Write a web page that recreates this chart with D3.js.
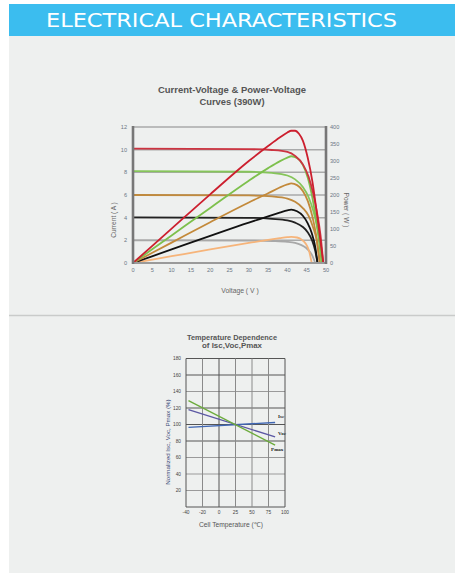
<!DOCTYPE html>
<html>
<head>
<meta charset="utf-8">
<script src="https://cdn.jsdelivr.net/npm/d3@7"></script>
<style>
  body { margin: 0; background: #fff; }
  svg { display: block; font-family: "Liberation Sans", Arial, sans-serif; }
</style>
</head>
<body>
<svg id="chart" width="455" height="573"></svg>
<script>
"use strict"

// ---- IV / PV curves (390W) ----
const voltTicks = [0, 5, 10, 15, 20, 25, 30, 35, 40, 45, 50]
const currentTicks = [0, 2, 4, 6, 8, 10, 12]
const powerTicks = [0, 50, 100, 150, 200, 250, 300, 350, 400]

// [voltage, current]
const ivRed = [[0,10.1],[30,10.05],[36,9.97],[40,9.8],[42,9.45],[44,8.7],[45.5,7.6],[46.7,6.1],[47.7,4.4],[48.6,2.4],[49.3,0]]
const ivGreen = [[0,8.1],[30,8.05],[36,7.95],[40,7.72],[42,7.38],[44,6.7],[45.5,5.8],[46.7,4.6],[47.7,3.2],[48.4,1.8],[48.9,0]]
const ivBrown = [[0,6.0],[30,5.96],[36,5.87],[40,5.68],[42,5.4],[44,4.85],[45.5,4.15],[46.6,3.2],[47.6,2.0],[48.4,0]]
const ivBlack = [[0,4.03],[30,3.99],[36,3.9],[40,3.76],[42,3.56],[44,3.18],[45.3,2.7],[46.4,2.0],[47.2,1.1],[47.8,0]]
const ivGray = [[0,2.0],[30,1.98],[36,1.94],[40,1.87],[42,1.77],[43.5,1.6],[44.8,1.35],[45.8,1.0],[46.6,0.55],[47.2,0]]

// [voltage, power]
const pvRed = [[0,0],[10,101],[20,202],[30,300],[35,344],[38,369],[40,384],[41,389],[42,389],[43,380],[44,360],[45.3,308],[46.5,238],[47.7,140],[48.5,70],[49.3,0]]
const pvGreen = [[0,0],[10,81],[20,162],[30,242],[35,279],[38,299],[40,310],[41,314],[42.5,309],[44,289],[45.3,250],[46.5,190],[47.6,115],[48.3,55],[48.9,0]]
const pvBrown = [[0,0],[10,60],[20,120],[30,178],[35,205],[38,222],[40,231],[41,234],[42.5,229],[44,212],[45.3,182],[46.4,140],[47.4,85],[48.4,0]]
const pvBlack = [[0,0],[10,40],[20,80],[30,119],[35,137],[38,148],[40,155],[41,157],[42.5,152],[44,139],[45.2,118],[46.3,88],[47.2,48],[47.8,0]]
const pvOrange = [[0,0],[10,20],[20,40],[30,59],[35,68],[38,73],[40,76],[41,77],[42.5,75],[43.8,68],[44.8,56],[45.6,36],[46.3,0]]

// ---- temperature dependence ----
const tempTicks = [-40, -20, 0, 25, 50, 75, 100]
const pctTicks = [20, 40, 60, 80, 100, 120, 140, 160, 180]
// [temperature, %]
const iscLine = [[-37, 96.5], [85, 102.5]]
const vocLine = [[-37, 118], [85, 85]]
const pmaxLine = [[-37, 129], [85, 75]]

const svg = d3.select('#chart')

/****** header + panel ******/
svg.append('rect').attr('x', 9).attr('y', 36).attr('width', 446).attr('height', 537).attr('fill', '#eef0ef')
svg.append('rect').attr('x', 9).attr('y', 4).attr('width', 446).attr('height', 32).attr('fill', '#3bbdef')
svg.append('text')
  .attr('x', 46).attr('y', 27)
  .attr('font-family', '"DejaVu Sans", Verdana, sans-serif')
  .attr('font-size', 20)
  .attr('fill', '#fff')
  .attr('textLength', 351).attr('lengthAdjust', 'spacingAndGlyphs')
  .text('ELECTRICAL CHARACTERISTICS')
svg.append('line').attr('x1', 9).attr('x2', 455).attr('y1', 315.5).attr('y2', 315.5)
  .attr('stroke', '#c9cbca').attr('stroke-width', 1.5)

/****** chart 1 ******/
const c1 = { left: 133, right: 326, top: 127, bottom: 263 }
const x1 = d3.scaleLinear().domain([0, 50]).range([c1.left, c1.right])
const yA = d3.scaleLinear().domain([0, 12]).range([c1.bottom, c1.top])
const yW = d3.scaleLinear().domain([0, 400]).range([c1.bottom, c1.top])

const g1 = svg.append('g')

g1.append('text').attr('x', 232).attr('y', 93).attr('text-anchor', 'middle')
  .attr('font-size', 8.4).attr('font-weight', 'bold').attr('fill', '#555')
  .attr('textLength', 148).attr('lengthAdjust', 'spacingAndGlyphs')
  .text('Current-Voltage & Power-Voltage')
g1.append('text').attr('x', 232).attr('y', 104.5).attr('text-anchor', 'middle')
  .attr('font-size', 8.4).attr('font-weight', 'bold').attr('fill', '#555')
  .attr('textLength', 65).attr('lengthAdjust', 'spacingAndGlyphs')
  .text('Curves (390W)')

// horizontal grid
g1.selectAll('.hgrid').data(currentTicks.filter(d => d > 0)).enter()
  .append('line')
    .attr('x1', c1.left).attr('x2', c1.right)
    .attr('y1', d => yA(d)).attr('y2', d => yA(d))
    .attr('stroke', '#a9aaaa').attr('stroke-width', 1.5)

const line1 = d3.line().x(d => x1(d[0])).y(d => yA(d[1])).curve(d3.curveMonotoneX)
const lineP = d3.line().x(d => x1(d[0])).y(d => yW(d[1])).curve(d3.curveMonotoneX)

const curves = [
  { data: ivGray, gen: line1, color: '#a8a8a8' },
  { data: pvOrange, gen: lineP, color: '#f6b47a' },
  { data: ivBlack, gen: line1, color: '#222' },
  { data: pvBlack, gen: lineP, color: '#111' },
  { data: ivBrown, gen: line1, color: '#c08a3e' },
  { data: pvBrown, gen: lineP, color: '#c3893a' },
  { data: ivGreen, gen: line1, color: '#86c55a' },
  { data: pvGreen, gen: lineP, color: '#7dc04c' },
  { data: ivRed, gen: line1, color: '#cc3340' },
  { data: pvRed, gen: lineP, color: '#cc1f2e' }
]
g1.selectAll('.curve').data(curves).enter()
  .append('path')
    .attr('d', d => d.gen(d.data))
    .attr('fill', 'none')
    .attr('stroke', d => d.color)
    .attr('stroke-width', 1.8)

// axes frame
g1.append('line').attr('x1', c1.left).attr('x2', c1.right).attr('y1', c1.bottom).attr('y2', c1.bottom)
  .attr('stroke', '#9a9a9a').attr('stroke-width', 2)
g1.append('line').attr('x1', c1.left).attr('x2', c1.left).attr('y1', c1.top - 1).attr('y2', c1.bottom + 1)
  .attr('stroke', '#777').attr('stroke-width', 2.6)
g1.append('line').attr('x1', c1.right).attr('x2', c1.right).attr('y1', c1.top - 1).attr('y2', c1.bottom + 1)
  .attr('stroke', '#777').attr('stroke-width', 2.6)

const tickFont = 5.6
const tickColor = '#6b7684'
g1.selectAll('.ylab').data(currentTicks).enter()
  .append('text')
    .attr('x', c1.left - 6).attr('y', d => yA(d) + 2)
    .attr('text-anchor', 'end').attr('font-size', tickFont).attr('fill', tickColor)
    .text(d => d)
g1.selectAll('.wlab').data(powerTicks).enter()
  .append('text')
    .attr('x', c1.right + 4).attr('y', d => yW(d) + 2)
    .attr('font-size', tickFont).attr('fill', tickColor)
    .text(d => d)
g1.selectAll('.xlab').data(voltTicks).enter()
  .append('text')
    .attr('x', d => x1(d)).attr('y', c1.bottom + 9)
    .attr('text-anchor', 'middle').attr('font-size', tickFont).attr('fill', tickColor)
    .text(d => d)

g1.append('text').attr('transform', 'translate(116,220) rotate(-90)')
  .attr('text-anchor', 'middle').attr('font-size', 6.6).attr('fill', '#666')
  .text('Current ( A )')
g1.append('text').attr('transform', 'translate(344,210) rotate(90)')
  .attr('text-anchor', 'middle').attr('font-size', 6.6).attr('fill', '#666')
  .text('Power ( W )')
g1.append('text').attr('x', 240).attr('y', 293)
  .attr('text-anchor', 'middle').attr('font-size', 6.8).attr('fill', '#666')
  .text('Voltage ( V )')

/****** chart 2 ******/
const c2 = { left: 186, right: 285, top: 358.5, bottom: 507 }
const x2 = d3.scaleLinear()
  .domain(tempTicks)
  .range(tempTicks.map((d, i) => c2.left + i * (c2.right - c2.left) / (tempTicks.length - 1)))
const y2 = d3.scaleLinear().domain([0, 180]).range([c2.bottom, c2.top])

const g2 = svg.append('g')

g2.append('text').attr('x', 232).attr('y', 339.5).attr('text-anchor', 'middle')
  .attr('font-size', 7.2).attr('font-weight', 'bold').attr('fill', '#555')
  .attr('textLength', 90).attr('lengthAdjust', 'spacingAndGlyphs')
  .text('Temperature Dependence')
g2.append('text').attr('x', 232).attr('y', 347.5).attr('text-anchor', 'middle')
  .attr('font-size', 7.2).attr('font-weight', 'bold').attr('fill', '#555')
  .attr('textLength', 60).attr('lengthAdjust', 'spacingAndGlyphs')
  .text('of Isc,Voc,Pmax')

const darkRows = [180, 160, 120, 100, 80]
g2.selectAll('.hg').data([0].concat(pctTicks)).enter()
  .append('line')
    .attr('x1', c2.left).attr('x2', c2.right)
    .attr('y1', d => y2(d)).attr('y2', d => y2(d))
    .attr('stroke', d => darkRows.includes(d) || d === 0 ? '#555' : '#9a9a9a')
    .attr('stroke-width', 1)
const darkCols = [-40, 0, 100]
g2.selectAll('.vg').data(tempTicks).enter()
  .append('line')
    .attr('x1', d => x2(d)).attr('x2', d => x2(d))
    .attr('y1', c2.top).attr('y2', c2.bottom)
    .attr('stroke', d => darkCols.includes(d) ? '#555' : '#8a8a8a')
    .attr('stroke-width', 1)

const line2 = d3.line().x(d => x2(d[0])).y(d => y2(d[1]))
const tempSeries = [
  { name: 'Isc', data: iscLine, color: '#3f66b3', dy: -4, dx: 3 },
  { name: 'Voc', data: vocLine, color: '#5c58a3', dy: -2, dx: 3 },
  { name: 'Pmax', data: pmaxLine, color: '#6cab3c', dy: 6, dx: -4 }
]
g2.selectAll('.tline').data(tempSeries).enter()
  .append('path')
    .attr('d', d => line2(d.data))
    .attr('fill', 'none')
    .attr('stroke', d => d.color)
    .attr('stroke-width', 1.4)
g2.selectAll('.tname').data(tempSeries).enter()
  .append('text')
    .attr('x', d => x2(d.data[1][0]) + d.dx)
    .attr('y', d => y2(d.data[1][1]) + d.dy)
    .attr('font-family', '"Liberation Serif", serif')
    .attr('font-size', 5).attr('font-weight', 'bold').attr('fill', '#222')
    .text(d => d.name)

g2.selectAll('.ylab2').data(pctTicks).enter()
  .append('text')
    .attr('x', c2.left - 5).attr('y', d => y2(d) + 1.7)
    .attr('text-anchor', 'end').attr('font-size', 4.8).attr('fill', '#444')
    .text(d => d)
g2.selectAll('.xlab2').data(tempTicks).enter()
  .append('text')
    .attr('x', d => x2(d)).attr('y', c2.bottom + 6.5)
    .attr('text-anchor', 'middle').attr('font-size', 4.8).attr('fill', '#444')
    .text(d => d)

g2.append('text').attr('transform', 'translate(170,442) rotate(-90)')
  .attr('text-anchor', 'middle').attr('font-size', 6.2).attr('fill', '#3b4a78')
  .text('Normalized Isc, Voc, Pmax (%)')
g2.append('text').attr('x', 231).attr('y', 527)
  .attr('text-anchor', 'middle').attr('font-size', 6.7).attr('fill', '#555')
  .text('Cell Temperature (℃)')
</script>
</body>
</html>
